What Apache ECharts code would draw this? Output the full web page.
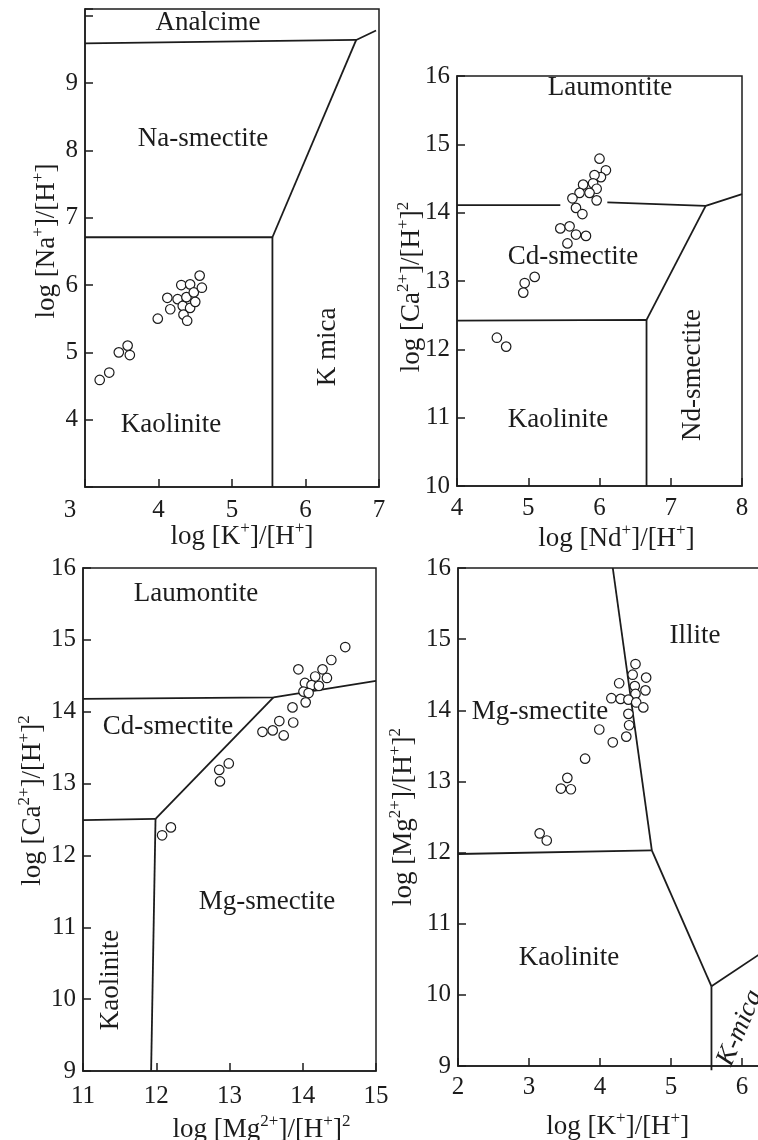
<!DOCTYPE html>
<html>
<head>
<meta charset="utf-8">
<script src="https://cdn.jsdelivr.net/npm/echarts/dist/echarts.min.js"></script>
<style>
  html, body { margin: 0; padding: 0; background: #ffffff; }
  #chart { width: 758px; height: 1140px; }
</style>
</head>
<body>
<div id="chart"></div>
<script>
// ---------------------------------------------------------------
// Mineral stability diagrams (log activity ratios) with water samples
// ---------------------------------------------------------------

// Panel 1: log[K+]/[H+] (x) vs log[Na+]/[H+] (y)
const naK_xRange = [3, 7];
const naK_yRange = [3, 10.1];
const naK_yLabels = [4, 5, 6, 7, 8, 9];
const naK_logK  = [3.20, 3.33, 3.46, 3.58, 3.61, 3.99, 4.12, 4.16, 4.26, 4.31, 4.33, 4.34, 4.39, 4.38, 4.43, 4.43, 4.48, 4.50, 4.56, 4.59];
const naK_logNa = [4.59, 4.70, 5.00, 5.10, 4.96, 5.50, 5.81, 5.64, 5.79, 6.00, 5.69, 5.56, 5.47, 5.82, 6.01, 5.66, 5.89, 5.75, 6.14, 5.96];
const naK_analcimeEdge = [[3, 9.59], [6.69, 9.64], [6.96, 9.78]];
const naK_smectiteMica = [[6.69, 9.64], [5.55, 6.71]];
const naK_kaoliniteEdge = [[3, 6.71], [5.55, 6.71], [5.55, 3]];

// Panel 2: log[Nd+]/[H+] (x) vs log[Ca2+]/[H+]2 (y)
const caNd_xRange = [4, 8];
const caNd_yRange = [10, 16];
const caNd_logNd = [6.00, 6.09, 6.02, 5.93, 5.77, 5.91, 5.96, 5.86, 5.72, 5.62, 5.96, 5.67, 5.76, 5.45, 5.58, 5.67, 5.81, 5.55, 5.09, 4.95, 4.93, 4.56, 4.69];
const caNd_logCa = [14.79, 14.62, 14.52, 14.55, 14.41, 14.43, 14.35, 14.29, 14.29, 14.21, 14.18, 14.07, 13.98, 13.77, 13.80, 13.68, 13.66, 13.55, 13.06, 12.97, 12.83, 12.17, 12.04];
const caNd_laumontiteWest = [[4, 14.11], [5.45, 14.11]];
const caNd_laumontiteEast = [[6.11, 14.15], [7.49, 14.10], [8, 14.27]];
const caNd_smectiteEdge = [[7.49, 14.10], [6.66, 12.43]];
const caNd_kaoliniteEdge = [[4, 12.42], [6.66, 12.43], [6.66, 10]];

// Panel 3: log[Mg2+]/[H+]2 (x) vs log[Ca2+]/[H+]2 (y)
const caMg_xRange = [11, 15];
const caMg_yRange = [9, 16];
const caMg_logMg = [14.58, 14.39, 13.94, 14.27, 14.17, 14.33, 14.03, 14.12, 14.22, 14.01, 14.08, 14.04, 13.86, 13.68, 13.87, 13.59, 13.45, 13.74, 12.99, 12.86, 12.87, 12.20, 12.08];
const caMg_logCa = [14.90, 14.72, 14.59, 14.59, 14.49, 14.47, 14.40, 14.37, 14.36, 14.28, 14.26, 14.13, 14.06, 13.87, 13.85, 13.74, 13.72, 13.67, 13.28, 13.19, 13.03, 12.39, 12.28];
const caMg_laumontiteEdge = [[11, 14.18], [13.60, 14.20], [15, 14.43]];
const caMg_cdMgEdge = [[13.60, 14.20], [11.99, 12.51]];
const caMg_kaoliniteTop = [[11, 12.49], [11.99, 12.51]];
const caMg_kaoliniteEdge = [[11.99, 12.51], [11.93, 9]];

// Panel 4: log[K+]/[H+] (x) vs log[Mg2+]/[H+]2 (y)
const mgK_xRange = [2, 6.5];
const mgK_yRange = [9, 16];
const mgK_logK  = [4.50, 4.46, 4.65, 4.27, 4.49, 4.64, 4.50, 4.16, 4.29, 4.40, 4.51, 4.61, 4.40, 4.41, 3.99, 4.37, 4.18, 3.79, 3.54, 3.45, 3.59, 3.15, 3.25];
const mgK_logMg = [14.65, 14.50, 14.46, 14.38, 14.34, 14.28, 14.23, 14.17, 14.16, 14.15, 14.11, 14.04, 13.95, 13.79, 13.73, 13.63, 13.55, 13.32, 13.05, 12.90, 12.89, 12.27, 12.17];
const mgK_illiteEdge = [[4.18, 16], [4.73, 12.03]];
const mgK_kaoliniteTop = [[2, 11.98], [4.73, 12.03]];
const mgK_illiteKaolinite = [[4.73, 12.03], [5.57, 10.12]];
const mgK_micaTop = [[5.57, 10.12], [6.5, 10.74]];
const mgK_micaKaolinite = [[5.57, 10.12], [5.57, 8.94]];

// ---------------------------------------------------------------
// Styling and layout
// ---------------------------------------------------------------
const FONT = '"Liberation Serif", "DejaVu Serif", serif';
const INK = '#1c1c1c';
const TICK_FS = 25;
const NAME_FS = 27;
const LABEL_FS = 27;

const grids = [
  { left: 85,  top: 9,   width: 294,   height: 478 },
  { left: 457, top: 76,  width: 285,   height: 410 },
  { left: 83,  top: 568, width: 293,   height: 503 },
  { left: 458, top: 568, width: 319.5, height: 498 }
].map(g => Object.assign({
  show: true, borderColor: INK, borderWidth: 1.5, backgroundColor: 'transparent',
  outerBoundsMode: 'none', containLabel: false
}, g));

const supStyle = { fontSize: 17, fontFamily: FONT, color: INK, verticalAlign: 'top' };

function intLabel(v) { return Number.isInteger(v) ? String(v) : ''; }

function axis(kind, gridIndex, range, name, nameGap, namePad, labelMargin, labelFmt, labelRich) {
  return {
    type: 'value', gridIndex: gridIndex, min: range[0], max: range[1], interval: 1,
    position: kind === 'x' ? 'bottom' : 'left',
    axisLine: { show: true, onZero: false, lineStyle: { color: INK, width: 1.5 } },
    axisTick: { show: true, inside: true, length: 8, lineStyle: { color: INK, width: 1.5 } },
    axisLabel: {
      color: INK, fontSize: TICK_FS, fontFamily: FONT, margin: labelMargin,
      formatter: labelFmt || intLabel, rich: labelRich || {}
    },
    splitLine: { show: false },
    name: name, nameLocation: 'middle', nameGap: nameGap, nameMoveOverlap: false,
    nameTextStyle: {
      color: INK, fontSize: NAME_FS, fontFamily: FONT, lineHeight: 34,
      padding: namePad, rich: { s: supStyle }
    }
  };
}

const xAxes = [
  axis('x', 0, naK_xRange, 'log [K{s|+}]/[H{s|+}]', 33, [0, 0, 0, 20], 11,
       v => v === 3 ? '{lead|3}' : intLabel(v),
       { lead: { fontSize: TICK_FS, fontFamily: FONT, color: INK, padding: [0, 30, 0, 0] } }),
  axis('x', 1, caNd_xRange, 'log [Nd{s|+}]/[H{s|+}]', 36, [0, 0, 0, 34], 10),
  axis('x', 2, caMg_xRange, 'log [Mg{s|2+}]/[H{s|+}]{s|2}', 42, [0, 0, 0, 64], 13),
  axis('x', 3, mgK_xRange, 'log [K{s|+}]/[H{s|+}]', 44, [0, 0, 0, 0], 9)
];
const yAxes = [
  axis('y', 0, naK_yRange, 'log [Na{s|+}]/[H{s|+}]', 21, [0, 0, 0, 14], 7,
       v => naK_yLabels.indexOf(v) >= 0 ? String(v) : ''),
  axis('y', 1, caNd_yRange, 'log [Ca{s|2+}]/[H{s|+}]{s|2}', 28, [0, 12, 0, 0], 7),
  axis('y', 2, caMg_yRange, 'log [Ca{s|2+}]/[H{s|+}]{s|2}', 33, [0, 0, 0, 38], 7),
  axis('y', 3, mgK_yRange, 'log [Mg{s|2+}]/[H{s|+}]{s|2}', 37, [0, 0, 0, 0], 7)
];

function boundary(pts, i) {
  return {
    type: 'line', xAxisIndex: i, yAxisIndex: i, data: pts, symbol: 'none',
    lineStyle: { color: INK, width: 1.8 }, silent: true, z: 2, clip: false
  };
}
function samples(xs, ys, i) {
  return {
    type: 'scatter', xAxisIndex: i, yAxisIndex: i,
    data: xs.map((x, k) => [x, ys[k]]),
    symbol: 'circle', symbolSize: 9.5,
    itemStyle: { color: '#ffffff', borderColor: INK, borderWidth: 1.2, opacity: 1 },
    z: 3
  };
}

const series = [
  boundary(naK_analcimeEdge, 0), boundary(naK_smectiteMica, 0), boundary(naK_kaoliniteEdge, 0),
  samples(naK_logK, naK_logNa, 0),
  boundary(caNd_laumontiteWest, 1), boundary(caNd_laumontiteEast, 1),
  boundary(caNd_smectiteEdge, 1), boundary(caNd_kaoliniteEdge, 1),
  samples(caNd_logNd, caNd_logCa, 1),
  boundary(caMg_laumontiteEdge, 2), boundary(caMg_cdMgEdge, 2),
  boundary(caMg_kaoliniteTop, 2), boundary(caMg_kaoliniteEdge, 2),
  samples(caMg_logMg, caMg_logCa, 2),
  boundary(mgK_illiteEdge, 3), boundary(mgK_kaoliniteTop, 3), boundary(mgK_illiteKaolinite, 3),
  boundary(mgK_micaTop, 3), boundary(mgK_micaKaolinite, 3),
  samples(mgK_logK, mgK_logMg, 3)
];

// Field names inside each diagram
function fieldName(text, x, y, rot, italic) {
  return {
    type: 'text', x: x, y: y, rotation: rot || 0, z: 10,
    style: {
      text: text, fill: INK, fontSize: LABEL_FS, fontFamily: FONT,
      fontStyle: italic ? 'italic' : 'normal',
      align: 'center', verticalAlign: 'middle'
    }
  };
}
const R90 = Math.PI / 2;
const graphic = [
  fieldName('Analcime', 208, 23),
  fieldName('Na-smectite', 203, 139),
  fieldName('Kaolinite', 171, 425),
  fieldName('K mica', 328, 347, R90),
  fieldName('Laumontite', 610, 88),
  fieldName('Cd-smectite', 573, 257),
  fieldName('Kaolinite', 558, 420),
  fieldName('Nd-smectite', 693, 375, R90),
  fieldName('Laumontite', 196, 594),
  fieldName('Cd-smectite', 168, 727),
  fieldName('Mg-smectite', 267, 902),
  fieldName('Kaolinite', 111, 980, R90),
  fieldName('Illite', 695, 636),
  fieldName('Mg-smectite', 540, 712),
  fieldName('Kaolinite', 569, 958),
  fieldName('K-mica', 740, 1028, 67 * Math.PI / 180, true)
];

const chart = echarts.init(document.getElementById('chart'), null, { renderer: 'canvas' });
chart.setOption({
  backgroundColor: '#ffffff',
  animation: false,
  grid: grids,
  xAxis: xAxes,
  yAxis: yAxes,
  series: series,
  graphic: graphic
});
</script>
</body>
</html>
